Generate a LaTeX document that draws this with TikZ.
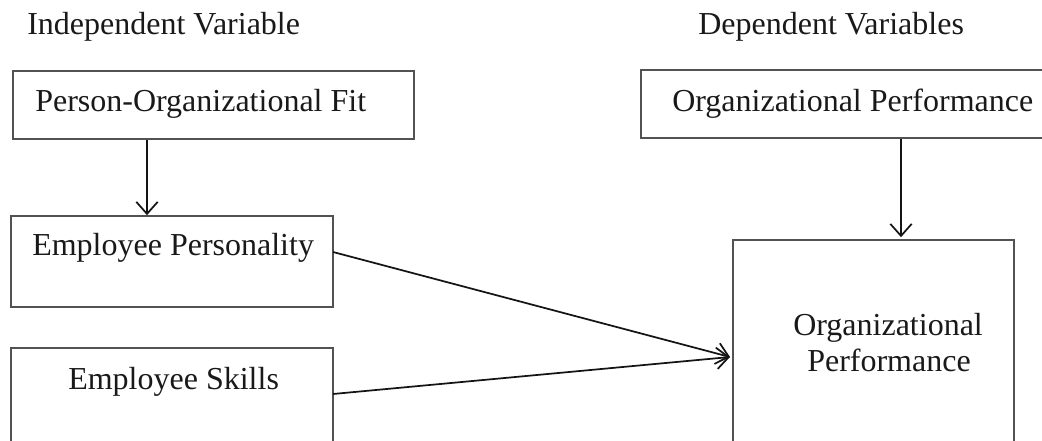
\documentclass[tikz,border=0pt]{standalone}
\usepackage{fontspec}
\setmainfont{Liberation Serif}
\usetikzlibrary{arrows.meta,calc}
\begin{document}
\begin{tikzpicture}[x=0.75pt,y=-0.75pt,
  box/.style={draw=black!68,line width=1.2pt,inner sep=0pt},
  lbl/.style={anchor=base west,inner sep=0pt,font=\fontsize{24pt}{28pt}\selectfont,text=black!90},
  arr/.style={draw=black!92,line width=1.3pt,-{Straight Barb[length=9pt,width=16pt,line width=1.3pt]}}]
\useasboundingbox (0,0) rectangle (1042,441);
\clip (0,0) rectangle (1042,441);
% boxes
\node[box,minimum width=300.75pt,minimum height=51pt] (pof) at (213.5,105) {};
\node[box,minimum width=241.5pt,minimum height=68.25pt] (ep) at (172,261.5) {};
\node[box,minimum width=241.5pt,minimum height=99pt] (es) at (172,414) {};
\node[box,minimum width=314.25pt,minimum height=51pt] (op1) at (850.5,104) {};
\node[box,minimum width=210.75pt,minimum height=180pt] (op2) at (873.5,360) {};
% texts
\node[lbl] (t1) at (27,35) {Independent Variable};
\node[lbl] (t2) at (698,35) {Dependent Variables};
\node[lbl] (t3) at (35,112) {Person-Organizational Fit};
\node[lbl] (t4) at (672,112) {Organizational Performance};
\node[lbl] (t5) at (32,256) {Employee Personality};
\node[lbl] (t6) at (68,389) {Employee Skills};
\node[lbl] (t7) at (793,336) {Organizational};
\node[lbl] (t8) at (807,372) {Performance};
% connectors
\coordinate (ax) at (147,0);
\coordinate (bx) at (901,0);
\coordinate (s1) at (333,252);
\coordinate (s2) at (333,394);
\coordinate (tip) at (730,357);
\draw[arr] (pof.south -| ax) -- (ep.north -| ax);
\draw[arr] (op1.south -| bx) -- ($(op2.north -| bx)+(0,-2)$);
\draw[arr] (s1) -- (tip);
\draw[arr] (s2) -- (tip);
\end{tikzpicture}
\end{document}
